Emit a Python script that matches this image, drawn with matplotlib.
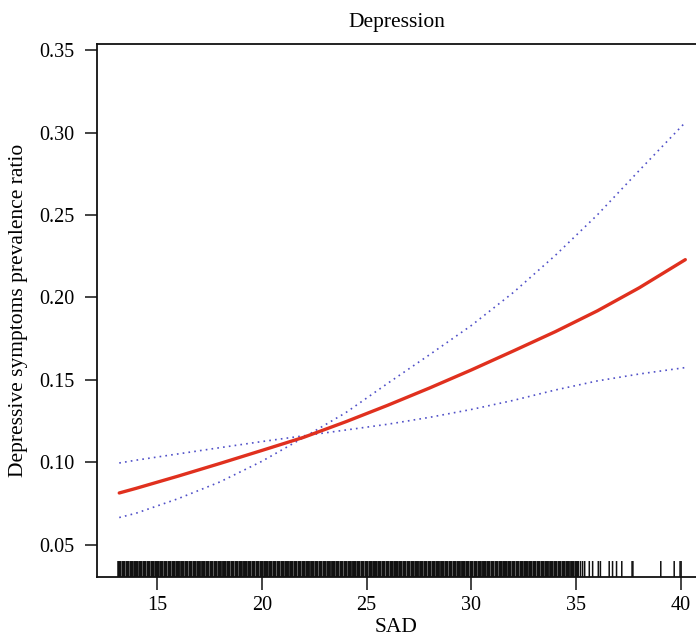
import matplotlib
matplotlib.use("Agg")
import matplotlib.pyplot as plt

plt.rcParams["font.family"] = ["Liberation Serif", "DejaVu Serif"]

# fitted curve and confidence bounds
sad = [13.2, 14, 16, 18, 20, 22, 24, 26, 28, 30, 32, 34, 36, 38, 40.2]
fit = [0.0813, 0.0841, 0.0915, 0.0992, 0.1071, 0.1151, 0.1245, 0.1345, 0.1450,
       0.1560, 0.1675, 0.1792, 0.1918, 0.2058, 0.2229]
ci_hi = [0.0664, 0.0690, 0.0778, 0.0880, 0.1005, 0.1150, 0.1300, 0.1478, 0.1652,
         0.1830, 0.2030, 0.2255, 0.2500, 0.2770, 0.3062]
ci_lo = [0.0995, 0.1012, 0.1050, 0.1088, 0.1125, 0.1160, 0.1195, 0.1230, 0.1272,
         0.1320, 0.1375, 0.1438, 0.1493, 0.1535, 0.1574]

# rug of observed SAD values
rug_dense = [
    13.2, 13.4, 13.6, 13.8, 14.0, 14.2, 14.4, 14.6, 14.8, 15.0,
    15.2, 15.4, 15.6, 15.8, 16.0, 16.2, 16.4, 16.6, 16.8, 17.0,
    17.2, 17.4, 17.6, 17.8, 18.0, 18.2, 18.4, 18.6, 18.8, 19.0,
    19.2, 19.4, 19.6, 19.8, 20.0, 20.2, 20.4, 20.6, 20.8, 21.0,
    21.2, 21.4, 21.6, 21.8, 22.0, 22.2, 22.4, 22.6, 22.8, 23.0,
    23.2, 23.4, 23.6, 23.8, 24.0, 24.2, 24.4, 24.6, 24.8, 25.0,
    25.2, 25.4, 25.6, 25.8, 26.0, 26.2, 26.4, 26.6, 26.8, 27.0,
    27.2, 27.4, 27.6, 27.8, 28.0, 28.2, 28.4, 28.6, 28.8, 29.0,
    29.2, 29.4, 29.6, 29.8, 30.0, 30.2, 30.4, 30.6, 30.8, 31.0,
    31.2, 31.4, 31.6, 31.8, 32.0, 32.2, 32.4, 32.6, 32.8, 33.0,
    33.2, 33.4, 33.6, 33.8, 34.0, 34.2, 34.4, 34.6, 34.8, 35.0,
]
rug_sparse = [35.1, 35.2, 35.3, 35.4, 35.62, 35.78, 36.05, 36.15, 36.57, 36.73,
              36.92, 37.17, 37.66, 37.7, 39.03, 39.67, 39.95, 40.0]

fig = plt.figure(figsize=(6.96, 6.39), dpi=100)
ax = fig.add_axes([0.1394, 0.097, 0.8606, 0.8342])

ax.plot(sad, ci_hi, color="#5050c8", lw=1.2, ls=(0, (1, 2.5)))
ax.plot(sad, ci_lo, color="#5050c8", lw=1.2, ls=(0, (1, 2.5)))
ax.plot(sad, fit, color="#e0301e", lw=2.4, solid_capstyle="round")

tr = ax.get_xaxis_transform()
ax.vlines(rug_dense, 0, 0.03, transform=tr, color="#111111", lw=2.9, snap=False)
ax.vlines(rug_sparse, 0, 0.03, transform=tr, color="#111111", lw=1.1, snap=False)

ax.set_xlim(12.14, 40.71)
ax.set_ylim(0.0303, 0.3538)
ax.set_xticks([15, 20, 25, 30, 35, 40])
ax.set_yticks([0.05, 0.10, 0.15, 0.20, 0.25, 0.30, 0.35])
ax.set_yticklabels(["0.05", "0.10", "0.15", "0.20", "0.25", "0.30", "0.35"])
ax.tick_params(direction="out", length=9, width=1.1, labelsize=14.5, color="#111111")
ax.tick_params(axis="y", pad=7)
ax.tick_params(axis="x", pad=5)
for s in ("left", "bottom", "top"):
    ax.spines[s].set_linewidth(1.3)
    ax.spines[s].set_color("#111111")
ax.spines["right"].set_visible(False)

ax.set_title("Depression", fontsize=15.5, pad=12)
ax.set_xlabel("SAD", fontsize=15.5, labelpad=2)
ax.set_ylabel("Depressive symptoms prevalence ratio", fontsize=15.5, labelpad=8)

fig.savefig("out.png", dpi=100)
